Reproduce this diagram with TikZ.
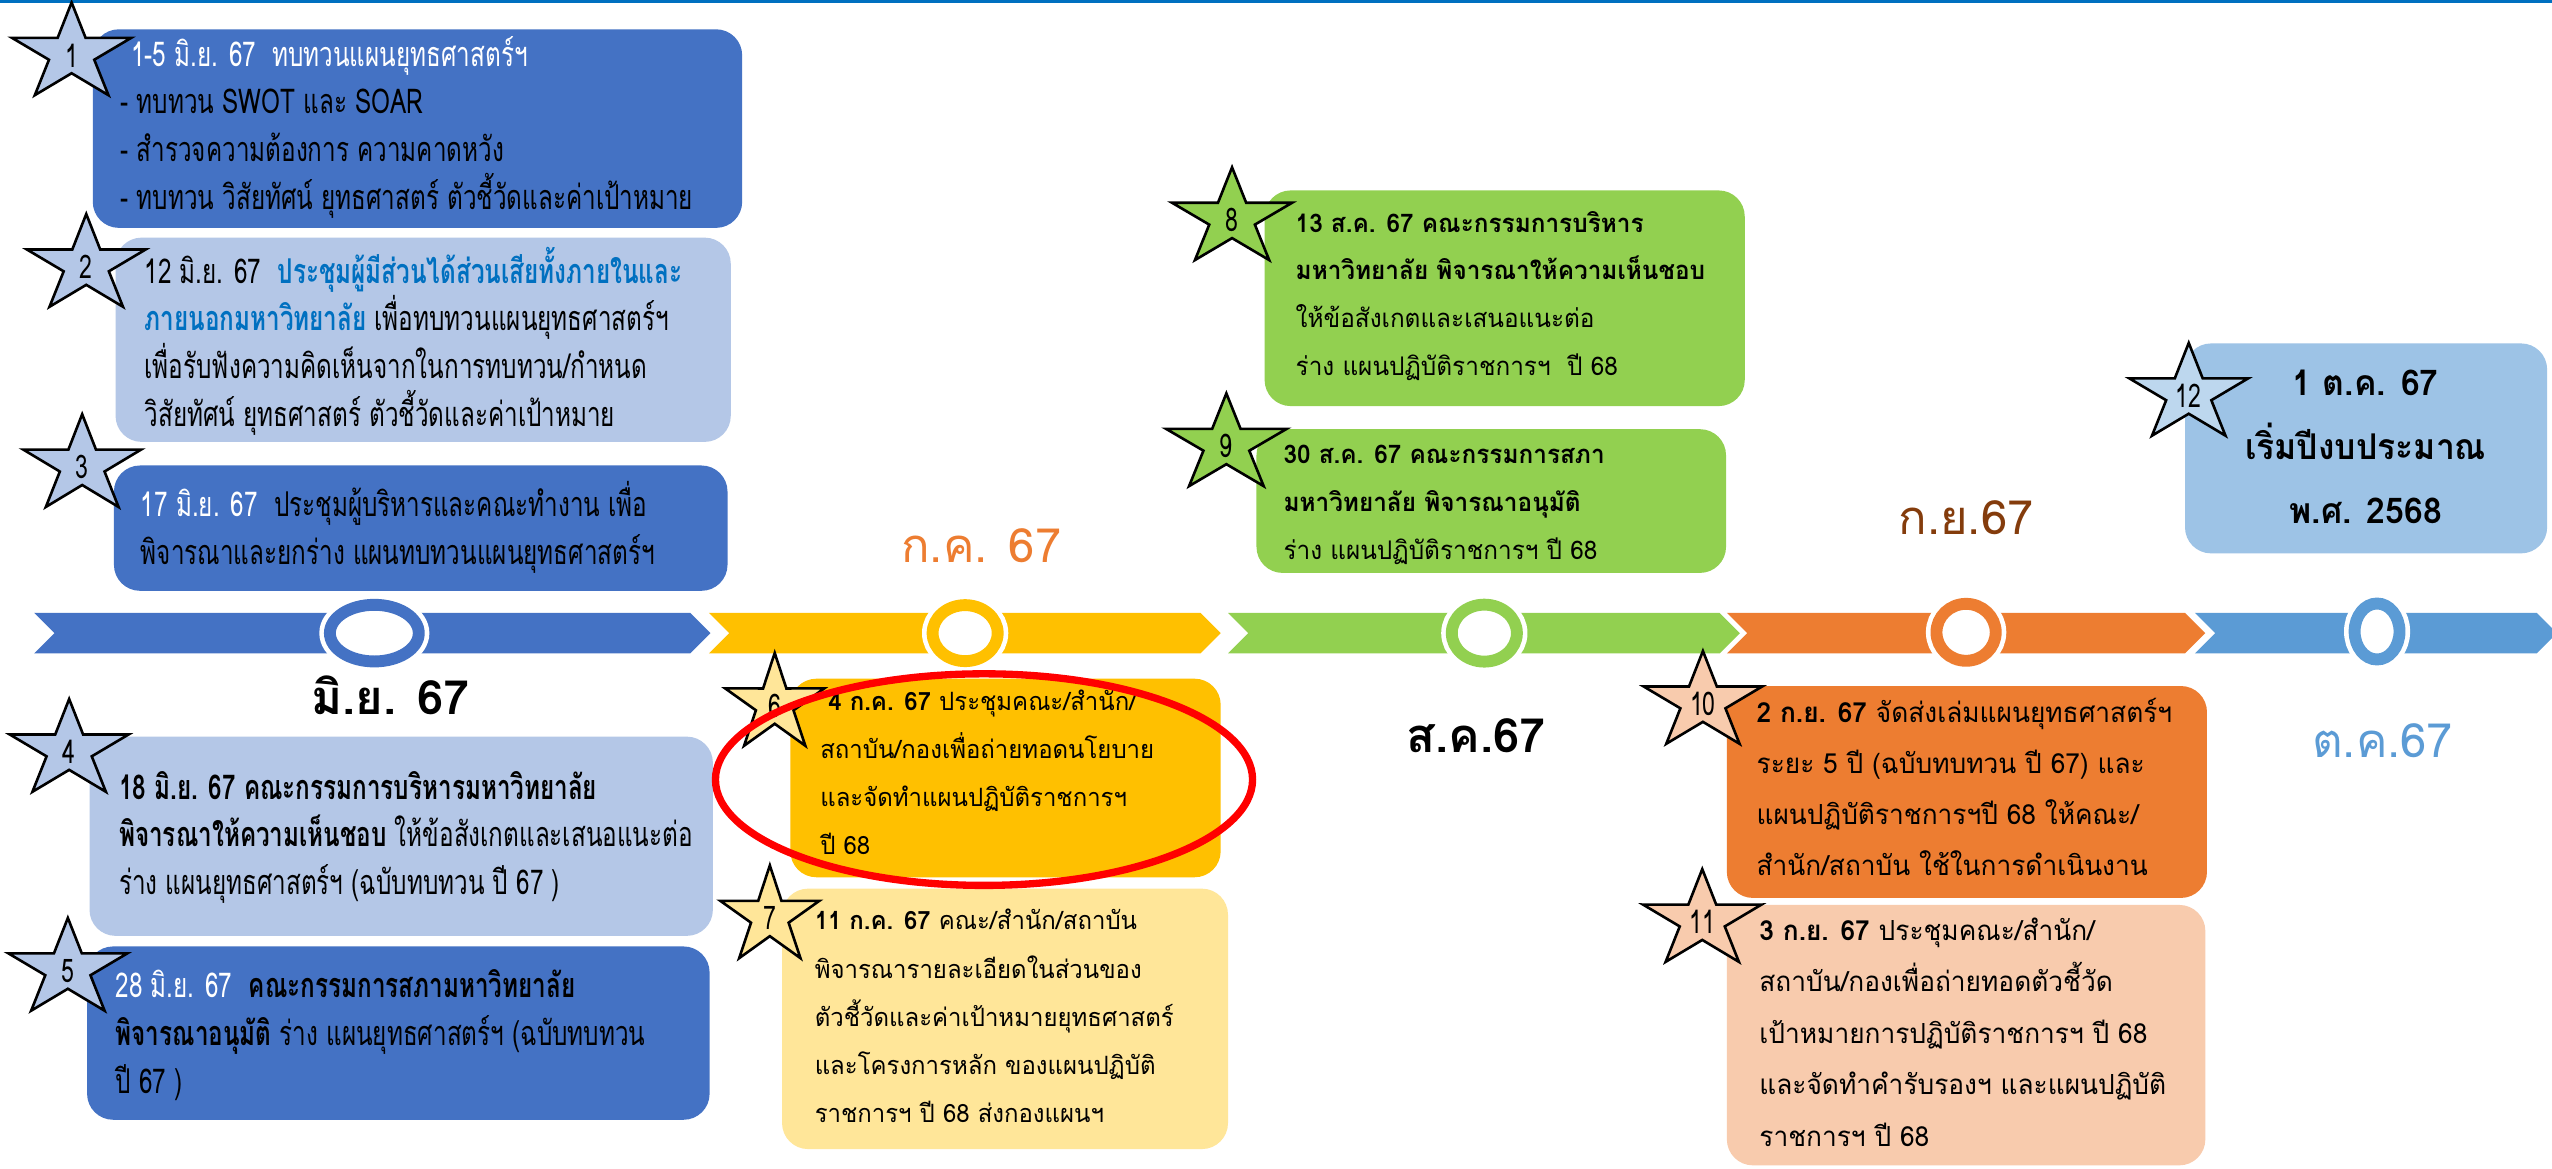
\documentclass[tikz,border=0pt]{standalone}
\usepackage{fontspec}
\newfontfamily\thn[Script=Thai,FakeStretch=0.71]{Loma}
\newfontfamily\thm[Script=Thai,FakeStretch=0.95]{Loma}
\newfontfamily\thw[Script=Thai]{Loma}
\usetikzlibrary{shapes.geometric}
\definecolor{darkblue}{HTML}{4472C4}
\definecolor{lightblue}{HTML}{B4C7E7}
\definecolor{gold}{HTML}{FFC000}
\definecolor{lightgold}{HTML}{FFE699}
\definecolor{leaf}{HTML}{92D050}
\definecolor{orange}{HTML}{ED7D31}
\definecolor{peach}{HTML}{F8CBAD}
\definecolor{skyblue}{HTML}{9DC3E6}
\definecolor{starsky}{HTML}{BDD7EE}
\definecolor{midblue}{HTML}{5B9BD5}
\definecolor{brown}{HTML}{843C0C}
\definecolor{textblue}{HTML}{0070C0}
\tikzset{
  box/.style={rounded corners=16pt},
  txt/.style={anchor=north west, inner sep=0pt, align=left,
    execute at begin node={\lineskiplimit=-100pt\strut}},
  narrow/.style={txt, font=\thn\fontsize{21pt}{29.4pt}\selectfont},
  wide/.style={txt, font=\thm\fontsize{15.5pt}{29.6pt}\selectfont},
  ring/.style={ellipse, fill=white, inner sep=0pt, line width=7.3pt,
    preaction={draw=white, line width=13pt}},
  month/.style={inner sep=0pt, font=\thw\fontsize{29pt}{29pt}\selectfont},
  starline/.style={draw=black, line width=1.6pt, line join=miter},
  starnum/.style={inner sep=0pt, font=\thn\fontsize{20pt}{20pt}\selectfont},
}
\begin{document}
\begin{tikzpicture}[x=1pt, y=-1pt]
\useasboundingbox (0,0) rectangle (1568,718);
\fill[white] (0,0) rectangle (1568,718);
\fill[textblue] (0,0) rectangle (1568,1.8);

% timeline
\foreach \xa/\xb/\c in {21/436.5/darkblue, 435.6/750/gold, 754.5/1069/leaf,
    1061/1355/orange, 1348.6/1571/midblue}
  \fill[\c] (\xa,376.5) -- ({\xb-12.5},376.5) -- (\xb,389) -- ({\xb-12.5},401.5)
    -- (\xa,401.5) -- ({\xa+12.5},389) -- cycle;
\node[ring, draw=darkblue, minimum width=54.6pt, minimum height=34.8pt] (r1) at (230,389) {};
\node[ring, draw=gold, minimum width=40pt, minimum height=34.4pt] (r2) at (593,389) {};
\node[ring, draw=leaf, minimum width=40pt, minimum height=35pt] (r3) at (912,389) {};
\node[ring, draw=orange, minimum width=36.4pt, minimum height=35pt] (r4) at (1208,388.5) {};
\node[ring, draw=midblue, minimum width=27.6pt, minimum height=34.4pt] (r5) at (1460.5,388) {};

\node[month] (jun) at (240,427.5) {\bfseries มิ.ย. 67};
\node[month, text=orange] (jul) at (603,335) {ก.ค. 67};
\node[month] (aug) at (907,452) {\bfseries ส.ค.67};
\node[month, text=brown] (sep) at (1208,318) {ก.ย.67};
\node[month, text=midblue] (oct) at (1464,455) {ต.ค.67};

% boxes
\fill[darkblue, box] (57,18) rectangle (456,140);
\fill[lightblue, box] (71,146) rectangle (449,271.5);
\fill[darkblue, box] (70,286) rectangle (447,363);
\fill[lightblue, box] (55,452.6) rectangle (438,575);
\fill[darkblue, box] (53.5,581.5) rectangle (436,688);
\fill[gold, box] (485.6,417) rectangle (750,539);
\fill[lightgold, box] (480.5,546) rectangle (754.5,706);
\fill[leaf, box] (777,117) rectangle (1072,249.5);
\fill[leaf, box] (772,263.7) rectangle (1060.5,352);
\fill[orange, box] (1061,421.5) rectangle (1356,551.7);
\fill[peach, box] (1061,556) rectangle (1355,716);
\fill[skyblue, box] (1342.5,211) rectangle (1565,340);

\node[narrow] (t1) at (73.9,22) {\hspace*{6.5pt}\textcolor{white}{1-5 มิ.ย. 67~~ทบทวนแผนยุทธศาสตร์ฯ}\\
- ทบทวน SWOT และ SOAR\\
- สำรวจความต้องการ ความคาดหวัง\\
- ทบทวน วิสัยทัศน์ ยุทธศาสตร์ ตัวชี้วัดและค่าเป้าหมาย};
\node[narrow] (t2) at (88.7,151.5) {12 มิ.ย. 67~~\textcolor{textblue}{\bfseries ประชุมผู้มีส่วนได้ส่วนเสียทั้งภายในและ}\\
\textcolor{textblue}{\bfseries ภายนอกมหาวิทยาลัย} เพื่อทบทวนแผนยุทธศาสตร์ฯ\\
เพื่อรับฟังความคิดเห็นจากในการทบทวน/กำหนด\\
วิสัยทัศน์ ยุทธศาสตร์ ตัวชี้วัดและค่าเป้าหมาย};
\node[narrow] (t3) at (86.4,295.5) {\textcolor{white}{17 มิ.ย. 67}~~ประชุมผู้บริหารและคณะทำงาน เพื่อ\\
พิจารณาและยกร่าง แผนทบทวนแผนยุทธศาสตร์ฯ};
\node[narrow] (t4) at (73,473.5) {\textbf{18 มิ.ย. 67 คณะกรรมการบริหารมหาวิทยาลัย}\\
\textbf{พิจารณาให้ความเห็นชอบ} ให้ข้อสังเกตและเสนอแนะต่อ\\
ร่าง แผนยุทธศาสตร์ฯ (ฉบับทบทวน ปี 67 )};
\node[narrow] (t5) at (70.9,595.4) {\textcolor{white}{28 มิ.ย. 67}~~\textbf{คณะกรรมการสภามหาวิทยาลัย}\\
\textbf{พิจารณาอนุมัติ} ร่าง แผนยุทธศาสตร์ฯ (ฉบับทบทวน\\
ปี 67 )};
\node[wide] (t6) at (503.8,423.5) {\hspace*{5pt}\textbf{4 ก.ค. 67} ประชุมคณะ/สำนัก/\\
สถาบัน/กองเพื่อถ่ายทอดนโยบาย\\
และจัดทำแผนปฏิบัติราชการฯ\\
ปี 68};
\node[wide] (t7) at (500.4,558.5) {\textbf{11 ก.ค. 67} คณะ/สำนัก/สถาบัน\\
พิจารณารายละเอียดในส่วนของ\\
ตัวชี้วัดและค่าเป้าหมายยุทธศาสตร์\\
และโครงการหลัก ของแผนปฏิบัติ\\
ราชการฯ ปี 68 ส่งกองแผนฯ};
\node[wide, font=\thm\fontsize{15.75pt}{29.4pt}\selectfont] (t8) at (795.9,129.5) {\textbf{13 ส.ค. 67 คณะกรรมการบริหาร}\\
\textbf{มหาวิทยาลัย พิจารณาให้ความเห็นชอบ}\\
ให้ข้อสังเกตและเสนอแนะต่อ\\
ร่าง แผนปฏิบัติราชการฯ~~ปี 68};
\node[wide, font=\thm\fontsize{15.75pt}{29.3pt}\selectfont] (t9) at (788.4,273.4) {\textbf{30 ส.ค. 67 คณะกรรมการสภา}\\
\textbf{มหาวิทยาลัย พิจารณาอนุมัติ}\\
ร่าง แผนปฏิบัติราชการฯ ปี 68};
\node[wide, font=\thm\fontsize{17pt}{31.5pt}\selectfont] (t10) at (1079.1,428.6) {\textbf{2 ก.ย. 67} จัดส่งเล่มแผนยุทธศาสตร์ฯ\\
ระยะ 5 ปี (ฉบับทบทวน ปี 67) และ\\
แผนปฏิบัติราชการฯปี 68 ให้คณะ/\\
สำนัก/สถาบัน ใช้ในการดำเนินงาน};
\node[wide, font=\thm\fontsize{17pt}{31.6pt}\selectfont] (t11) at (1080.8,563.7) {\textbf{3 ก.ย. 67} ประชุมคณะ/สำนัก/\\
สถาบัน/กองเพื่อถ่ายทอดตัวชี้วัด\\
เป้าหมายการปฏิบัติราชการฯ ปี 68\\
และจัดทำคำรับรองฯ และแผนปฏิบัติ\\
ราชการฯ ปี 68};
\node[txt, anchor=north, align=center, font=\thm\bfseries\fontsize{21.8pt}{39.4pt}\selectfont] (t12) at (1453.5,227) {1 ต.ค. 67\\
เริ่มปีงบประมาณ\\
พ.ศ. 2568};

% stars
\foreach \n/\sx/\sy/\sw/\sc in {1/44/33/38.5/lightblue, 2/53/163/38.4/lightblue,
    3/50.5/286/38/lightblue, 4/42.5/461/38.4/lightblue, 5/41.7/595.5/38.4/lightblue,
    6/476/432.7/32/lightgold, 7/473/563.2/32/lightgold, 8/757/134.3/38.8/leaf,
    9/753.5/273.2/39/leaf, 10/1046.3/431.5/38.3/peach, 11/1045.9/565.5/38.3/peach,
    12/1344.8/242.2/38.4/starsky}
{
  \draw[starline, fill=\sc, shift={(\sx,\sy)}] (-90:{\sw} and 31.5)
    \foreach \a in {-54,18,90,162,234}{ -- (\a:{0.38*\sw} and 12) -- ({\a+36}:{\sw} and 31.5)} -- cycle;
  \node[starnum] (s\n) at (\sx,\sy+1) {\n};
}

\node[ellipse, draw=red, line width=4.5pt, inner sep=0pt, minimum width=330pt,
  minimum height=130pt] (focus) at (604.6,479) {};
\end{tikzpicture}
\end{document}
